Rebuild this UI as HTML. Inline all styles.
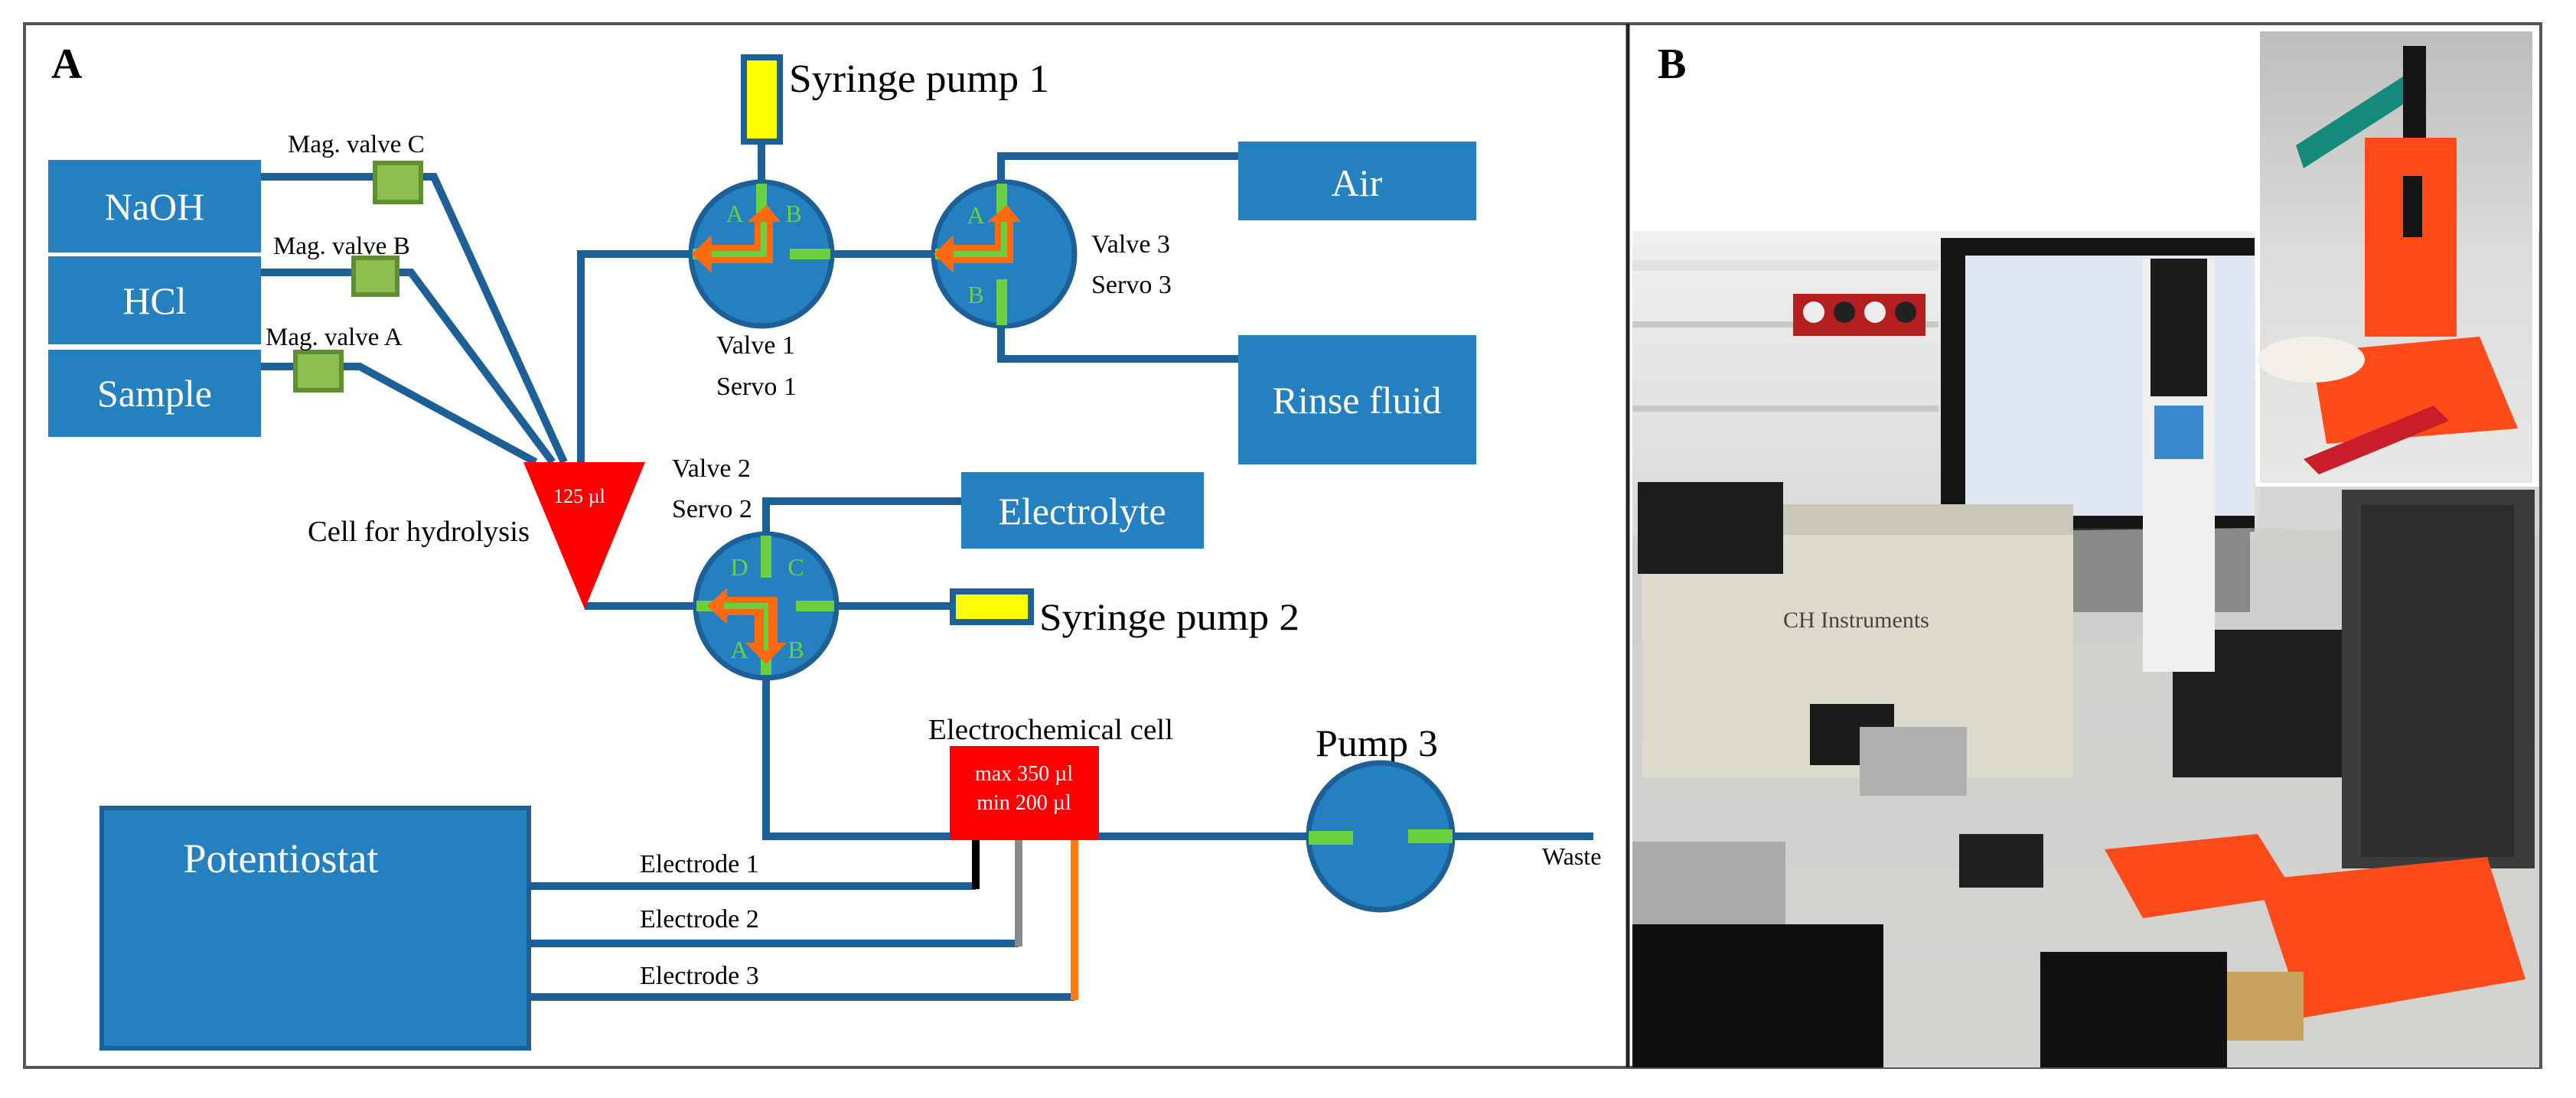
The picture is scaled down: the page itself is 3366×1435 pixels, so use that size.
<!DOCTYPE html>
<html><head><meta charset="utf-8"><style>
html,body{margin:0;padding:0;background:#fff}
svg{display:block}
text{font-family:"Liberation Serif",serif}
</style></head><body>
<svg width="3366" height="1435" viewBox="0 0 3366 1435" xmlns="http://www.w3.org/2000/svg">
<defs>
<linearGradient id="desk" x1="0" y1="0" x2="0" y2="1"><stop offset="0" stop-color="#cfd0cf"/><stop offset="1" stop-color="#e2e2e0"/></linearGradient>
<linearGradient id="wall" x1="0" y1="0" x2="0" y2="1"><stop offset="0" stop-color="#f0f0ee"/><stop offset="1" stop-color="#d8d8d6"/></linearGradient>
<linearGradient id="ins" x1="0" y1="0" x2="0" y2="1"><stop offset="0" stop-color="#bdbdbb"/><stop offset="0.5" stop-color="#dcdcda"/><stop offset="1" stop-color="#e8e8e6"/></linearGradient>
</defs>
<rect width="3366" height="1435" fill="#fff"/>
<rect x="32" y="31" width="3288" height="1364" fill="none" stroke="#555" stroke-width="4"/>
<line x1="2127" y1="31" x2="2127" y2="1395" stroke="#222" stroke-width="5"/>

<text x="67" y="102" font-size="56" font-weight="bold">A</text>
<g stroke="#1d5f97" stroke-width="10" fill="none">
 <polyline points="341,231 567,231 737,604"/>
 <polyline points="341,356 537,356 722,604"/>
 <polyline points="341,479 470,479 700,604"/>
 <polyline points="759,604 759,332 905,332"/>
 <line x1="995" y1="188" x2="995" y2="240"/>
 <line x1="1085" y1="332" x2="1222" y2="332"/>
 <polyline points="1308,240 1308,204 1618,204"/>
 <polyline points="1308,425 1308,469 1618,469"/>
 <polyline points="764,792 910,792"/>
 <polyline points="1001,700 1001,655 1256,655"/>
 <line x1="1090" y1="792" x2="1245" y2="792"/>
 <polyline points="1001,880 1001,1093 2082,1093"/>
 <polyline points="691,1158 1275,1158"/>
 <polyline points="691,1233 1331,1233"/>
 <polyline points="691,1303 1404,1303"/>
</g>
<line x1="1275" y1="1098" x2="1275" y2="1162" stroke="#000" stroke-width="10"/>
<line x1="1331" y1="1098" x2="1331" y2="1237" stroke="#8a8a8a" stroke-width="10"/>
<line x1="1404" y1="1098" x2="1404" y2="1307" stroke="#ff7a10" stroke-width="10"/>

<g fill="#2580c0">
 <rect x="63" y="209" width="278" height="121"/>
 <rect x="63" y="335" width="278" height="115"/>
 <rect x="63" y="457" width="278" height="114"/>
 <rect x="1618" y="185" width="311" height="103"/>
 <rect x="1618" y="438" width="311" height="169"/>
 <rect x="1256" y="617" width="317" height="100"/>
 <rect x="133" y="1056" width="558" height="314" stroke="#1d5f97" stroke-width="6"/>
</g>
<g fill="#fff" font-size="50" text-anchor="middle">
 <text x="202" y="287">NaOH</text>
 <text x="202" y="410">HCl</text>
 <text x="202" y="531">Sample</text>
 <text x="1773" y="256">Air</text>
 <text x="1773" y="540">Rinse fluid</text>
 <text x="1414" y="685">Electrolyte</text>
 <text x="367" y="1140" font-size="54">Potentiostat</text>
</g>
<g fill="#8cbf50" stroke="#5f8f30" stroke-width="6">
 <rect x="490" y="213" width="60" height="51"/>
 <rect x="462" y="337" width="57" height="48"/>
 <rect x="386" y="460" width="60" height="50"/>
</g>
<g font-size="33">
 <text x="376" y="199">Mag. valve C</text>
 <text x="357" y="332">Mag. valve B</text>
 <text x="347" y="451">Mag. valve A</text>
</g>
<polygon points="684,604 843,604 764,796" fill="#ff0000"/>
<text x="757" y="657" font-size="26" fill="#fff" text-anchor="middle">125 µl</text>
<text x="692" y="707" font-size="38" text-anchor="end" textLength="290" lengthAdjust="spacingAndGlyphs">Cell for hydrolysis</text>

<rect x="972" y="75" width="47" height="110" fill="#ffff00" stroke="#1d5f97" stroke-width="8"/>
<text x="1031" y="120" font-size="52" textLength="340" lengthAdjust="spacingAndGlyphs">Syringe pump 1</text>

<g>
 <ellipse cx="995" cy="332" rx="92" ry="94" fill="#2580c0" stroke="#1d5f97" stroke-width="7"/>
 <rect x="988" y="240" width="14" height="62" fill="#6ad040"/>
 <rect x="905" y="325" width="70" height="14" fill="#6ad040"/>
 <rect x="1032" y="325" width="53" height="14" fill="#6ad040"/>
 <polygon points="1002,268 1020,290 1010,290 1010,344 930,344 930,357 904,332 930,307 930,320 986,320 986,290 976,290" fill="#ff6a10"/>
 <polygon points="994,290 994,328 930,328 930,336 1002,336 1002,290" fill="#6ad040"/>
 <text x="960" y="290" font-size="32" fill="#6ad040" text-anchor="middle">A</text>
 <text x="1037" y="290" font-size="32" fill="#6ad040" text-anchor="middle">B</text>
</g>
<text x="936" y="462" font-size="34">Valve  1</text>
<text x="936" y="516" font-size="34">Servo  1</text>

<g>
 <ellipse cx="1312" cy="332" rx="92" ry="94" fill="#2580c0" stroke="#1d5f97" stroke-width="7"/>
 <rect x="1302" y="240" width="14" height="62" fill="#6ad040"/>
 <rect x="1222" y="325" width="70" height="14" fill="#6ad040"/>
 <rect x="1302" y="365" width="14" height="60" fill="#6ad040"/>
 <polygon points="1316,268 1334,290 1324,290 1324,344 1246,344 1246,357 1220,332 1246,307 1246,320 1300,320 1300,290 1290,290" fill="#ff6a10"/>
 <polygon points="1308,290 1308,328 1246,328 1246,336 1316,336 1316,290" fill="#6ad040"/>
 <text x="1275" y="292" font-size="32" fill="#6ad040" text-anchor="middle">A</text>
 <text x="1275" y="396" font-size="32" fill="#6ad040" text-anchor="middle">B</text>
</g>
<text x="1426" y="330" font-size="34">Valve  3</text>
<text x="1426" y="383" font-size="34">Servo 3</text>

<text x="878" y="623" font-size="34">Valve  2</text>
<text x="878" y="676" font-size="34">Servo 2</text>
<g>
 <ellipse cx="1001" cy="792" rx="92" ry="94" fill="#2580c0" stroke="#1d5f97" stroke-width="7"/>
 <rect x="994" y="700" width="14" height="55" fill="#6ad040"/>
 <rect x="910" y="785" width="70" height="14" fill="#6ad040"/>
 <rect x="1040" y="785" width="50" height="14" fill="#6ad040"/>
 <rect x="994" y="830" width="14" height="52" fill="#6ad040"/>
 <polygon points="950,768 950,780 1016,780 1016,840 1028,840 1001,868 974,840 986,840 986,804 950,804 950,816 924,792" fill="#ff6a10"/>
 <polygon points="946,788 1004,788 1004,850 998,850 998,796 946,796" fill="#6ad040"/>
 <text x="966" y="752" font-size="32" fill="#6ad040" text-anchor="middle">D</text>
 <text x="1040" y="752" font-size="32" fill="#6ad040" text-anchor="middle">C</text>
 <text x="966" y="860" font-size="32" fill="#6ad040" text-anchor="middle">A</text>
 <text x="1040" y="860" font-size="32" fill="#6ad040" text-anchor="middle">B</text>
</g>
<rect x="1245" y="773" width="102" height="40" fill="#ffff00" stroke="#1d5f97" stroke-width="8"/>
<text x="1358" y="823" font-size="50" textLength="340" lengthAdjust="spacingAndGlyphs">Syringe pump 2</text>

<text x="1213" y="966" font-size="38" textLength="320" lengthAdjust="spacingAndGlyphs">Electrochemical cell</text>
<rect x="1241" y="975" width="195" height="123" fill="#ff0000"/>
<text x="1338" y="1020" font-size="28" fill="#fff" text-anchor="middle">max 350 µl</text>
<text x="1338" y="1058" font-size="28" fill="#fff" text-anchor="middle">min  200 µl</text>

<text x="1719" y="988" font-size="50" textLength="160" lengthAdjust="spacingAndGlyphs">Pump 3</text>
<ellipse cx="1804" cy="1093" rx="94" ry="96" fill="#2580c0" stroke="#1d5f97" stroke-width="7"/>
<rect x="1710" y="1086" width="58" height="18" fill="#6ad040"/>
<rect x="1840" y="1084" width="58" height="18" fill="#6ad040"/>
<text x="2015" y="1130" font-size="32">Waste</text>

<g font-size="34">
 <text x="836" y="1140">Electrode 1</text>
 <text x="836" y="1212">Electrode 2</text>
 <text x="836" y="1286">Electrode 3</text>
</g>

<text x="2166" y="102" font-size="56" font-weight="bold">B</text>
<g>
 <rect x="2133" y="302" width="1185" height="1093" fill="url(#desk)"/>
 <rect x="2133" y="302" width="820" height="410" fill="url(#wall)"/>
 <rect x="2133" y="340" width="400" height="14" fill="#e2e2e0"/>
 <rect x="2133" y="420" width="400" height="8" fill="#c8c8c6"/>
 <rect x="2133" y="530" width="400" height="8" fill="#c8c8c6"/>
 <rect x="2343" y="384" width="173" height="55" fill="#b42020"/>
 <circle cx="2370" cy="408" r="14" fill="#eee"/><circle cx="2410" cy="408" r="14" fill="#222"/><circle cx="2450" cy="408" r="14" fill="#eee"/><circle cx="2490" cy="408" r="14" fill="#222"/>
 <rect x="2536" y="311" width="410" height="384" fill="#151515"/>
 <rect x="2568" y="334" width="378" height="340" fill="#dfe8f3"/>
 <rect x="2640" y="690" width="300" height="110" fill="#2a2a2a"/>
 <polygon points="2133,700 2950,690 3318,700 3318,1395 2133,1395" fill="#c9c9c7" opacity="0.6"/>
 <rect x="2146" y="659" width="563" height="357" fill="#dcdacb"/>
 <rect x="2146" y="659" width="563" height="40" fill="#c9c7b8"/>
 <text x="2330" y="820" font-size="30" font-family="Liberation Sans" fill="#444">CH Instruments</text>
 <rect x="2140" y="630" width="190" height="120" fill="#1c1c1c"/>
 <rect x="2839" y="823" width="237" height="193" fill="#1e1e1e"/>
 <rect x="3060" y="640" width="252" height="495" fill="#3a3c3c"/>
 <rect x="3085" y="660" width="200" height="460" fill="#2b2d2d"/>
 <rect x="2800" y="338" width="94" height="540" fill="#f0f0ee"/>
 <rect x="2810" y="338" width="74" height="180" fill="#1a1a1a"/>
 <rect x="2815" y="530" width="64" height="70" fill="#3a8ad0"/>
 <rect x="2365" y="920" width="110" height="80" fill="#1a1a1a"/>
 <rect x="2430" y="950" width="140" height="90" fill="#b0b0b0"/>
 <rect x="2560" y="1090" width="110" height="70" fill="#202020"/>
 <polygon points="2750,1110 2950,1090 3000,1170 2800,1200" fill="#ff4a1a"/>
 <polygon points="2950,1150 3250,1120 3300,1280 3010,1330" fill="#ff4a1a"/>
 <rect x="2666" y="1244" width="244" height="151" fill="#111"/>
 <rect x="2910" y="1270" width="100" height="90" fill="#c8a460"/>
 <rect x="2133" y="1208" width="328" height="187" fill="#0e0e0e"/>
 <rect x="2133" y="1100" width="200" height="108" fill="#aaa"/>
</g>
<rect x="2947" y="36" width="370" height="600" fill="#fff"/>
<rect x="2953" y="41" width="356" height="590" fill="url(#ins)"/>
<polygon points="3000,190 3140,100 3150,130 3010,220" fill="#138a7a"/>
<rect x="3140" y="60" width="30" height="150" fill="#151515"/>
<rect x="3090" y="180" width="120" height="260" fill="#ff4a1a"/>
<rect x="3140" y="230" width="25" height="80" fill="#151515"/>
<polygon points="3020,460 3240,440 3290,560 3040,580" fill="#ff4a1a"/>
<ellipse cx="3020" cy="470" rx="70" ry="30" fill="#f2f0e8"/>
<polygon points="3010,600 3180,530 3200,550 3030,620" fill="#c81e2a"/>
</svg>
</body></html>
